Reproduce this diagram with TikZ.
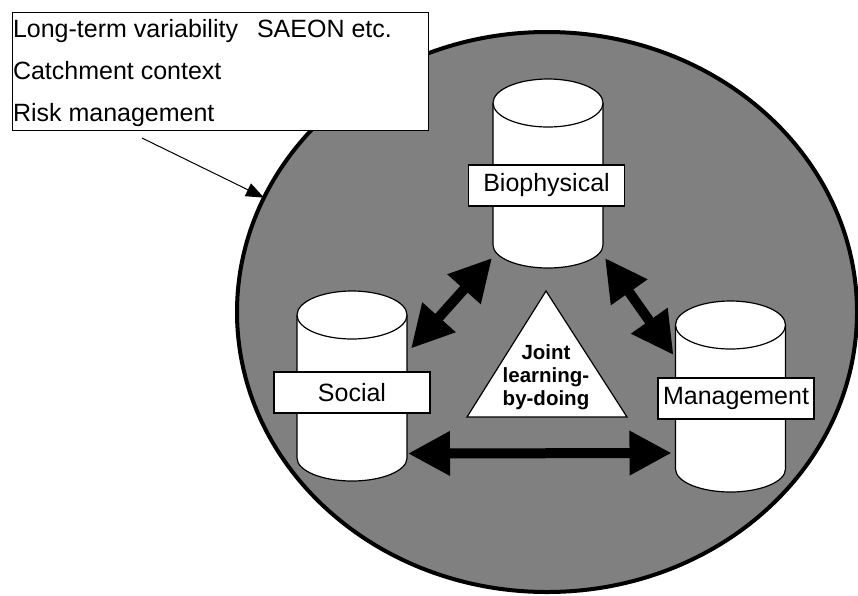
\documentclass[tikz,border=0pt]{standalone}
\usepackage{fontspec}
\setmainfont{Liberation Sans}
\usetikzlibrary{arrows.meta,shapes.geometric}
\newcommand\drawcyl[3]{%
  \fill[white] (#1-55,#2) rectangle (#1+55,#3);
  \fill[white] (#1,#3) ellipse[x radius=55pt,y radius=23pt];
  \draw[cylline] (#1-55,#2) -- (#1-55,#3) arc[start angle=180,end angle=360,x radius=55pt,y radius=23pt] -- (#1+55,#2);
  \draw[cylline,fill=white] (#1,#2) ellipse[x radius=55pt,y radius=24pt];}
\begin{document}
\begin{tikzpicture}[x=1pt,y=-1pt,
  every node/.style={inner sep=0pt, outer sep=0pt},
  lbl/.style={draw, fill=white, line width=1.2pt, minimum width=156pt, minimum height=41pt, font=\fontsize{25}{29}\selectfont},
  cylframe/.style={minimum width=110pt, minimum height=190pt},
  cylline/.style={line width=1.2pt},
  bigarrow/.style={line width=10pt, {Triangle[length=42pt,width=42pt]}-{Triangle[length=42pt,width=42pt]}},
  thinarrow/.style={line width=1pt, -{Triangle[length=18pt,width=14pt]}},
  boxtext/.style={anchor=base west, font=\fontsize{25}{29}\selectfont},
]
\useasboundingbox (0,0) rectangle (858,595);
% big grey ellipse
\node[ellipse, draw, line width=4pt, fill=gray, minimum width=620pt, minimum height=560pt] (circ) at (547,312) {};
% context box
\node[draw, fill=white, line width=1pt, minimum width=416pt, minimum height=118pt, anchor=north west] (ctx) at (12,12) {};
\node[boxtext] (t1) at (13,37) {Long-term variability\hspace{19pt}SAEON etc.};
\node[boxtext] (t2) at (13,79) {Catchment context};
\node[boxtext] (t3) at (13,121) {Risk management};
\draw[thinarrow] ([shift={(-78,8)}]ctx.south) -- (circ.158);
% cylinders
\drawcyl{548}{103}{245}
\drawcyl{352}{315}{458}
\drawcyl{730.5}{325}{469}
\node[cylframe] (bio) at (548,173) {};
\node[cylframe] (soc) at (352,386.5) {};
\node[cylframe] (mgt) at (730.5,397) {};
\node[lbl] (biol) at (546.5,185.5) {Biophysical};
\node[lbl] (socl) at (352,392.5) {Social};
\node[lbl] (mgtl) at (736,398.5) {Management};
% triangle
\draw[fill=white, line width=1.2pt] (546,291) -- (627,417) -- (467,417) -- cycle;
\node[align=center, font=\bfseries\fontsize{20.5}{23}\selectfont] (joint) at (546,377) {Joint\\learning-\\by-doing};
% arrows
\draw[bigarrow] ([shift={(-1,-10)}]bio.south west) -- ([shift={(4,57)}]soc.north east);
\draw[bigarrow] ([shift={(2,-10)}]bio.south east) -- ([shift={(-2,53)}]mgt.north west);
\draw[bigarrow] ([shift={(1,-28)}]soc.south east) -- ([shift={(-4,-39)}]mgt.south west);
\end{tikzpicture}
\end{document}
